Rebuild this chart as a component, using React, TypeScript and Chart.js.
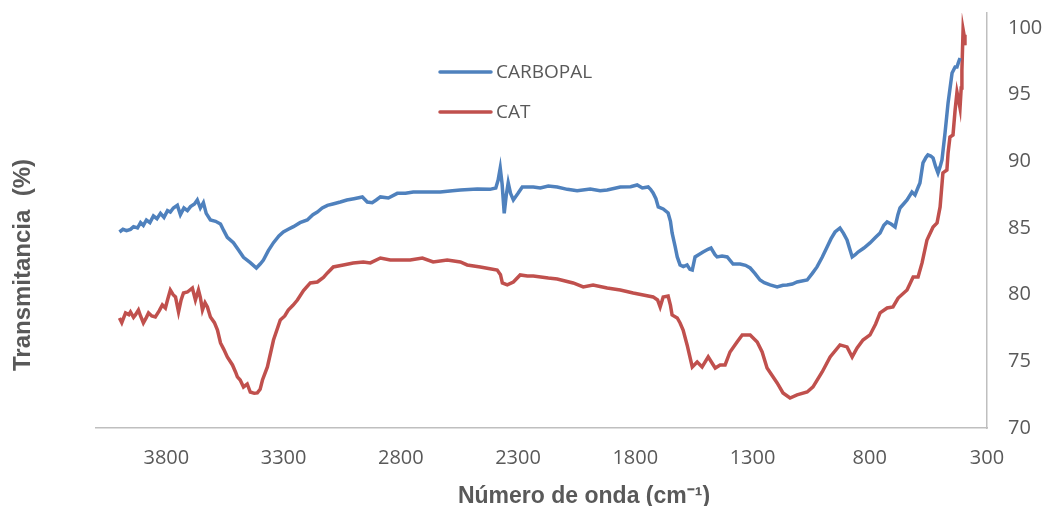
import React, { useEffect, useRef } from "react";
import { Chart, registerables } from "chart.js";

Chart.register(...registerables);

const seriesNames = ["CARBOPAL", "CAT"];
const seriesColors = ["#4F81BD", "#C0504D"];

const carbopalWave = [4000,3985,3970,3953,3940,3923,3910,3898,3885,3870,3855,3840,3825,3810,3795,3783,3770,3753,3740,3725,3710,3697,3680,3668,3655,3642,3630,3612,3590,3569,3555,3540,3514,3490,3471,3442,3416,3400,3386,3365,3343,3320,3301,3280,3258,3230,3199,3175,3156,3135,3113,3090,3058,3030,3000,2964,2943,2922,2905,2887,2853,2815,2780,2747,2687,2632,2580,2546,2474,2420,2395,2385,2376,2368,2359,2350,2342,2332,2320,2300,2282,2235,2205,2171,2133,2090,2048,1992,1950,1920,1864,1820,1792,1770,1745,1735,1724,1712,1702,1681,1660,1650,1643,1630,1621,1609,1595,1579,1567,1557,1545,1530,1511,1490,1477,1460,1451,1430,1408,1383,1353,1330,1310,1290,1268,1250,1225,1195,1170,1153,1130,1110,1067,1045,1025,1003,982,965,948,927,912,897,885,875,862,850,825,799,775,756,740,726,709,692,680,671,656,641,620,607,595,586,573,560,552,540,530,519,509,500,492,479,466,449,436,428,422,415];
const carbopalT = [84.7,84.9,84.8,84.9,85.1,85.0,85.4,85.2,85.6,85.4,85.9,85.7,86.1,85.8,86.3,86.2,86.5,86.7,86.0,86.5,86.3,86.6,86.8,87.1,86.5,86.9,86.1,85.6,85.5,85.3,84.8,84.3,83.9,83.3,82.8,82.4,82.0,82.3,82.6,83.3,83.9,84.4,84.7,84.9,85.1,85.4,85.6,86.0,86.2,86.5,86.7,86.8,86.95,87.1,87.2,87.33,86.95,86.9,87.1,87.33,87.25,87.6,87.6,87.7,87.7,87.7,87.8,87.85,87.93,87.9,88.0,88.6,89.5,88.3,86.1,87.5,88.4,87.6,87.1,87.6,88.08,88.08,88.0,88.15,88.08,87.9,87.8,87.93,87.8,87.85,88.08,88.1,88.23,88.0,88.08,87.9,87.63,87.2,86.58,86.43,86.13,85.5,84.63,83.6,82.83,82.23,82.1,82.23,81.9,81.85,82.83,83.0,83.2,83.4,83.5,83.0,82.83,82.9,82.83,82.3,82.3,82.2,82.0,81.6,81.1,80.9,80.73,80.58,80.7,80.73,80.8,80.95,81.1,81.6,82.08,82.8,83.58,84.2,84.7,85.0,84.6,84.1,83.4,82.83,83.0,83.2,83.5,83.88,84.3,84.63,85.2,85.45,85.3,85.08,86.0,86.5,86.8,87.1,87.7,87.48,88.0,88.38,89.88,90.3,90.48,90.4,90.25,89.6,89.13,89.6,90.1,92.13,94.38,96.63,97.08,97.08,97.4,97.75];

const catWave = [4000,3990,3974,3960,3953,3940,3932,3919,3910,3898,3885,3876,3862,3847,3830,3817,3804,3795,3783,3771,3761,3748,3737,3727,3710,3689,3676,3663,3655,3646,3635,3625,3612,3595,3582,3569,3555,3540,3518,3505,3497,3485,3471,3455,3442,3425,3412,3400,3390,3369,3343,3314,3295,3280,3260,3241,3215,3186,3156,3130,3113,3088,3045,3003,2960,2930,2887,2845,2802,2760,2708,2662,2602,2546,2517,2461,2420,2389,2375,2367,2346,2320,2291,2260,2235,2171,2133,2065,2022,1980,1920,1864,1809,1766,1724,1705,1694,1681,1660,1650,1643,1621,1609,1596,1579,1557,1536,1515,1489,1470,1459,1438,1417,1396,1366,1344,1310,1280,1259,1238,1215,1195,1170,1140,1110,1067,1042,1003,969,927,897,875,854,829,799,775,756,726,701,679,641,615,594,577,556,530,513,500,488,471,466,458,445,436,428,420,415,410,407,402,398,394];
const catT = [78.25,77.9,78.63,78.5,78.7,78.3,78.48,78.85,78.4,77.88,78.3,78.63,78.4,78.33,78.8,79.23,79.0,79.6,80.35,80.0,79.83,78.7,79.6,80.13,80.2,80.5,79.6,80.35,79.8,78.85,79.4,79.08,78.33,77.9,77.35,76.38,75.9,75.33,74.73,74.2,73.83,73.6,73.08,73.3,72.7,72.6,72.63,72.9,73.6,74.58,76.6,78.1,78.4,78.85,79.2,79.6,80.3,80.88,80.95,81.3,81.63,82.08,82.23,82.38,82.45,82.38,82.75,82.6,82.6,82.6,82.75,82.45,82.6,82.45,82.23,82.08,81.95,81.85,81.5,80.88,80.73,80.95,81.48,81.4,81.4,81.25,81.18,80.88,80.58,80.73,80.5,80.35,80.13,79.98,79.83,79.6,79.08,79.83,79.9,79.2,78.48,78.25,77.88,77.35,76.23,74.58,74.95,74.58,75.33,74.8,74.5,74.73,74.73,75.7,76.45,76.98,76.98,76.45,75.7,74.5,73.9,73.38,72.63,72.25,72.48,72.7,73.08,74.2,75.33,76.23,76.08,75.33,76.0,76.6,76.98,77.8,78.63,79.0,79.08,79.75,80.35,81.33,81.33,82.38,84.1,85.08,85.38,86.58,89.13,89.35,90.63,91.83,91.98,93.85,95.2,94.5,94.0,95.5,96.85,99.9,99.5,98.7];

const xTicks = [300, 800, 1300, 1800, 2300, 2800, 3300, 3800];
const yTicks = [70, 75, 80, 85, 90, 95, 100];
const xTitle = "Número de onda (cm⁻¹)";
const yTitle = "Transmitancia  (%)";

const TEXT = "#595959";

const overlayPlugin = {
  id: "overlay",
  afterDraw(chart: any) {
    const ctx = chart.ctx as CanvasRenderingContext2D;
    ctx.save();
    chart.data.datasets.forEach((ds: any, i: number) => {
      const y = 72 + i * 40;
      ctx.strokeStyle = ds.borderColor;
      ctx.lineWidth = 3.5;
      ctx.lineCap = "round";
      ctx.beginPath();
      ctx.moveTo(440, y);
      ctx.lineTo(491, y);
      ctx.stroke();
      ctx.fillStyle = TEXT;
      ctx.font = "19px 'Open Sans'";
      ctx.textAlign = "left";
      ctx.textBaseline = "middle";
      ctx.fillText(ds.label, 496, y + 1);
    });
    ctx.fillStyle = TEXT;
    ctx.font = "bold 23px 'Liberation Sans', Arial";
    ctx.textAlign = "center";
    ctx.textBaseline = "middle";
    ctx.fillText(xTitle, 584, 497);
    ctx.translate(23, 265);
    ctx.rotate(-Math.PI / 2);
    ctx.font = "bold 24px 'Liberation Sans', Arial";
    ctx.fillText(yTitle, 0, 0);
    ctx.restore();
  },
};

export default function App() {
  const ref = useRef<HTMLCanvasElement>(null);
  useEffect(() => {
    const toPts = (xs: number[], ys: number[]) => xs.map((x, i) => ({ x, y: ys[i] }));
    const chart = new Chart(ref.current!, {
      type: "line",
      data: {
        datasets: [
          { label: seriesNames[0], data: toPts(carbopalWave, carbopalT), borderColor: seriesColors[0], backgroundColor: seriesColors[0], borderWidth: 3.5, pointRadius: 0, tension: 0, fill: false },
          { label: seriesNames[1], data: toPts(catWave, catT), borderColor: seriesColors[1], backgroundColor: seriesColors[1], borderWidth: 3.5, pointRadius: 0, tension: 0, fill: false },
        ],
      },
      options: {
        animation: false,
        responsive: true,
        maintainAspectRatio: false,
        layout: { padding: { left: 96, top: 13, right: 0, bottom: 0 } },
        plugins: { legend: { display: false }, tooltip: { enabled: false } },
        scales: {
          x: {
            type: "linear",
            reverse: true,
            min: 300,
            max: 4100,
            afterBuildTicks: (s: any) => { s.ticks = xTicks.map((v) => ({ value: v })); },
            afterFit: (s: any) => { s.height = 78; s.paddingLeft = 0; s.paddingRight = 0; },
            grid: { display: false, drawTicks: false },
            border: { display: true, color: "#BFBFBF", width: 1.5 },
            ticks: { color: TEXT, font: { family: "'Open Sans'", size: 20 }, padding: 18, maxRotation: 0, autoSkip: false, callback: (v: any) => String(v) },
          },
          y: {
            type: "linear",
            position: "right",
            min: 70,
            max: 101.125,
            afterBuildTicks: (s: any) => { s.ticks = yTicks.map((v) => ({ value: v })); },
            afterFit: (s: any) => { s.width = 62; s.paddingTop = 0; s.paddingBottom = 0; },
            grid: { display: false, drawTicks: false },
            border: { display: true, color: "#BFBFBF", width: 1.5 },
            ticks: { color: TEXT, font: { family: "'Open Sans'", size: 20 }, padding: 21, callback: (v: any) => String(v) },
          },
        },
      },
      plugins: [overlayPlugin],
    } as any);
    return () => chart.destroy();
  }, []);
  return (
    <div style={{ position: "fixed", left: 0, top: 0, width: 1049, height: 506, background: "#fff" }}>
      <canvas ref={ref} />
    </div>
  );
}
